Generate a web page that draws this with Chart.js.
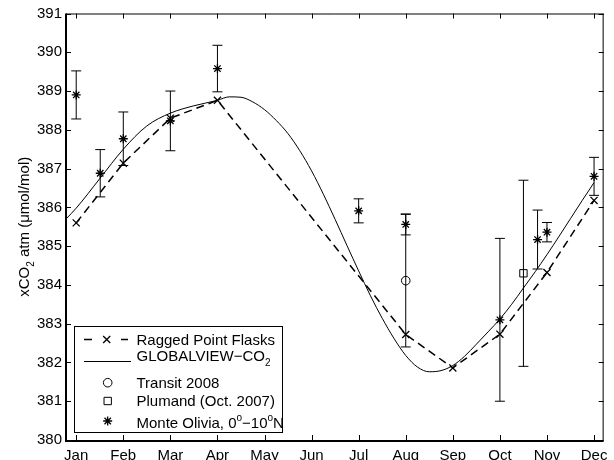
<!DOCTYPE html>
<html>
<head>
<meta charset="utf-8">
<script src="https://cdn.jsdelivr.net/npm/chart.js@4.4.0/dist/chart.umd.min.js"></script>
<style>
  html, body { margin: 0; padding: 0; background: #fff; }
</style>
</head>
<body>
<canvas id="co2Chart" width="614" height="460"></canvas>
<script>
const monthLabels = ["Jan", "Feb", "Mar", "Apr", "May", "Jun", "Jul", "Aug", "Sep", "Oct", "Nov", "Dec"];
const yTickValues = [380, 381, 382, 383, 384, 385, 386, 387, 388, 389, 390, 391];

// Ragged Point flasks (x markers, dashed)
const raggedMonths = [1, 2, 3, 4, 8, 9, 10, 11, 12];
const raggedValues = [385.6, 387.14, 388.3, 388.76, 382.72, 381.86, 382.73, 384.32, 386.18];

// GLOBALVIEW-CO2 reference curve
const globalviewMonths = [0.783, 1, 1.5, 2, 2.5, 3, 3.5, 4, 4.25, 4.5, 4.75, 5, 5.25, 5.5, 5.75, 6, 6.25, 6.5, 6.75, 7,
  7.25, 7.5, 7.75, 8, 8.25, 8.5, 8.75, 9, 9.25, 9.5, 9.75, 10, 10.25, 10.5, 10.75, 11, 11.25, 11.5, 11.75, 12];
const globalviewValues = [385.7, 385.98, 386.74, 387.5, 388.1, 388.43, 388.62, 388.76, 388.85, 388.84, 388.72, 388.52, 388.24, 387.9, 387.46, 386.94, 386.34, 385.69, 385.02, 384.36,
  383.72, 383.14, 382.62, 382.18, 381.88, 381.76, 381.79, 381.92, 382.16, 382.47, 382.79, 383.12, 383.5, 383.92, 384.34, 384.78, 385.24, 385.71, 386.18, 386.64];

// Transit 2008 (circle)
const transitMonths = [8];
const transitValues = [384.11];
const transitErrors = [1.71];

// Plumand, Oct. 2007 (square)
const plumandMonths = [10.5];
const plumandValues = [384.3];
const plumandErrors = [2.4];

// Monte Olivia, 0-10N (asterisk)
const monteMonths = [1, 1.51, 2, 3, 4, 7, 8, 10, 10.8, 11, 12];
const monteValues = [388.9, 386.88, 387.77, 388.23, 389.58, 385.91, 385.56, 383.1, 385.17, 385.36, 386.8];
const monteErrors = [0.62, 0.61, 0.69, 0.77, 0.6, 0.31, 0.27, 2.1, 0.76, 0.25, 0.49];

const FONT = '"Liberation Sans", Arial, Helvetica, sans-serif';
const FONT_SIZE = 15;

function toPoints(xs, ys) {
  return xs.map((x, i) => ({ x: x, y: ys[i] }));
}

// draw text made of normal / sub / sup pieces, left aligned at x, baseline y
function drawRich(ctx, parts, x, y) {
  let cx = x;
  parts.forEach(p => {
    const size = p.sub || p.sup ? 10 : FONT_SIZE;
    ctx.font = size + "px " + FONT;
    let dy = 0;
    if (p.sub) dy = 5;
    if (p.sup) dy = -7;
    ctx.fillText(p.t, cx, y + dy);
    cx += ctx.measureText(p.t).width;
  });
  return cx - x;
}

function richWidth(ctx, parts) {
  let w = 0;
  parts.forEach(p => {
    const size = p.sub || p.sup ? 10 : FONT_SIZE;
    ctx.font = size + "px " + FONT;
    w += ctx.measureText(p.t).width;
  });
  return w;
}

function drawMarker(ctx, style, x, y, r) {
  ctx.beginPath();
  if (style === "circle") {
    ctx.arc(x, y, r, 0, Math.PI * 2);
  } else if (style === "rect") {
    const s = r * Math.SQRT1_2;
    ctx.rect(x - s, y - s, 2 * s, 2 * s);
  } else if (style === "crossRot") {
    const o = r * Math.SQRT1_2;
    ctx.moveTo(x - o, y - o); ctx.lineTo(x + o, y + o);
    ctx.moveTo(x - o, y + o); ctx.lineTo(x + o, y - o);
  } else if (style === "star") {
    const o = r * Math.SQRT1_2;
    ctx.moveTo(x - r, y); ctx.lineTo(x + r, y);
    ctx.moveTo(x, y - r); ctx.lineTo(x, y + r);
    ctx.moveTo(x - o, y - o); ctx.lineTo(x + o, y + o);
    ctx.moveTo(x - o, y + o); ctx.lineTo(x + o, y - o);
  }
  ctx.stroke();
}

// error bars, inward ticks, box frame, y title and legend
const matlabLook = {
  id: "matlabLook",
  afterDatasetsDraw(chart) {
    const ctx = chart.ctx;
    const a = chart.chartArea;
    const xs = chart.scales.x;
    const ys = chart.scales.y;
    ctx.save();
    ctx.strokeStyle = "#000";
    ctx.lineWidth = 1;

    // error bars
    chart.data.datasets.forEach(ds => {
      if (!ds.errorBars) return;
      ds.data.forEach((p, i) => {
        const px = xs.getPixelForValue(p.x);
        const top = ys.getPixelForValue(p.y + ds.errorBars[i]);
        const bot = ys.getPixelForValue(p.y - ds.errorBars[i]);
        ctx.beginPath();
        ctx.moveTo(px, top); ctx.lineTo(px, bot);
        ctx.moveTo(px - 5, top); ctx.lineTo(px + 5, top);
        ctx.moveTo(px - 5, bot); ctx.lineTo(px + 5, bot);
        ctx.stroke();
      });
    });

    // inward ticks on all four sides
    ctx.beginPath();
    xs.ticks.forEach(t => {
      const px = Math.round(xs.getPixelForValue(t.value)) + 0.5;
      ctx.moveTo(px, a.bottom); ctx.lineTo(px, a.bottom - 5);
      ctx.moveTo(px, a.top); ctx.lineTo(px, a.top + 5);
    });
    ys.ticks.forEach(t => {
      const py = Math.round(ys.getPixelForValue(t.value)) + 0.5;
      ctx.moveTo(a.left, py); ctx.lineTo(a.left + 5, py);
      ctx.moveTo(a.right, py); ctx.lineTo(a.right - 5, py);
    });
    ctx.stroke();

    // frame
    ctx.beginPath();
    ctx.moveTo(a.left, a.top + 0.5); ctx.lineTo(a.right, a.top + 0.5);
    ctx.moveTo(a.right - 0.5, a.top); ctx.lineTo(a.right - 0.5, a.bottom);
    ctx.stroke();
    ctx.lineWidth = 2;
    ctx.beginPath();
    ctx.moveTo(a.left, a.top); ctx.lineTo(a.left, a.bottom + 1);
    ctx.lineTo(a.right, a.bottom + 1);
    ctx.stroke();
    ctx.restore();
  },
  afterDraw(chart) {
    const ctx = chart.ctx;
    const a = chart.chartArea;
    ctx.save();
    ctx.fillStyle = "#000";
    ctx.strokeStyle = "#000";
    ctx.textBaseline = "alphabetic";

    // y axis title, rotated
    const title = [{ t: "xCO" }, { t: "2", sub: true }, { t: " atm (\u03bcmol/mol)" }];
    ctx.save();
    ctx.translate(29, (a.top + a.bottom) / 2);
    ctx.rotate(-Math.PI / 2);
    drawRich(ctx, title, -richWidth(ctx, title) / 2, 0);
    ctx.restore();

    // legend box
    const box = { x: 74.5, y: 326.5, w: 208, h: 106 };
    ctx.fillStyle = "#fff";
    ctx.fillRect(box.x, box.y, box.w, box.h);
    ctx.lineWidth = 1;
    ctx.strokeRect(box.x, box.y, box.w, box.h);
    ctx.fillStyle = "#000";

    const textX = 136.5;
    // Ragged Point Flasks
    ctx.beginPath();
    ctx.moveTo(84, 339.5); ctx.lineTo(92, 339.5);
    ctx.moveTo(121, 339.5); ctx.lineTo(128, 339.5);
    ctx.lineWidth = 1.5;
    ctx.stroke();
    ctx.lineWidth = 1.3;
    drawMarker(ctx, "crossRot", 106.7, 339.5, 5);
    drawRich(ctx, [{ t: "Ragged Point Flasks" }], textX, 344.5);

    // GLOBALVIEW-CO2
    ctx.lineWidth = 1;
    ctx.beginPath();
    ctx.moveTo(84, 361.5); ctx.lineTo(131, 361.5);
    ctx.stroke();
    drawRich(ctx, [{ t: "GLOBALVIEW\u2212CO" }, { t: "2", sub: true }], textX, 360.7);

    // Transit 2008
    drawMarker(ctx, "circle", 107.7, 382.7, 4.3);
    drawRich(ctx, [{ t: "Transit 2008" }], textX, 387.5);

    // Plumand
    drawMarker(ctx, "rect", 107.7, 401, 5.2);
    drawRich(ctx, [{ t: "Plumand (Oct. 2007)" }], textX, 405.8);

    // Monte Olivia
    ctx.lineWidth = 1.3;
    drawMarker(ctx, "star", 107.7, 421, 4.5);
    drawRich(ctx, [{ t: "Monte Olivia, 0" }, { t: "o", sup: true }, { t: "\u221210" }, { t: "o", sup: true }, { t: "N" }], textX, 427.8);
    ctx.restore();
  }
};

const tickFont = { family: FONT, size: FONT_SIZE };

const ctx = document.getElementById("co2Chart").getContext("2d");
const co2Chart = new Chart(ctx, {
  type: "scatter",
  data: {
    datasets: [
      {
        label: "Ragged Point Flasks",
        type: "line",
        data: toPoints(raggedMonths, raggedValues),
        borderColor: "#000",
        borderWidth: 1.5,
        borderDash: [8, 5],
        pointStyle: "crossRot",
        pointRadius: 5,
        pointBorderWidth: 1.3,
        pointBorderColor: "#000",
        pointBackgroundColor: "rgba(0,0,0,0)",
        fill: false,
        tension: 0
      },
      {
        label: "GLOBALVIEW-CO2",
        type: "line",
        data: toPoints(globalviewMonths, globalviewValues),
        borderColor: "#000",
        borderWidth: 1,
        pointRadius: 0,
        fill: false,
        cubicInterpolationMode: "monotone"
      },
      {
        label: "Transit 2008",
        data: toPoints(transitMonths, transitValues),
        errorBars: transitErrors,
        pointStyle: "circle",
        pointRadius: 4.3,
        borderColor: "#000",
        borderWidth: 1,
        backgroundColor: "rgba(0,0,0,0)"
      },
      {
        label: "Plumand (Oct. 2007)",
        data: toPoints(plumandMonths, plumandValues),
        errorBars: plumandErrors,
        pointStyle: "rect",
        pointRadius: 5.2,
        borderColor: "#000",
        borderWidth: 1,
        backgroundColor: "rgba(0,0,0,0)"
      },
      {
        label: "Monte Olivia",
        data: toPoints(monteMonths, monteValues),
        errorBars: monteErrors,
        pointStyle: "star",
        pointRadius: 4.5,
        borderColor: "#000",
        borderWidth: 1.3,
        backgroundColor: "rgba(0,0,0,0)"
      }
    ]
  },
  options: {
    responsive: false,
    animation: false,
    events: [],
    layout: { padding: { top: 13.5, right: 5, left: 0, bottom: 0 } },
    plugins: {
      legend: { display: false },
      tooltip: { enabled: false }
    },
    scales: {
      x: {
        type: "linear",
        min: 0.783,
        max: 12.204,
        afterBuildTicks: scale => { scale.ticks = monthLabels.map((m, i) => ({ value: i + 1 })); },
        afterFit: scale => { scale.height = 20; },
        grid: { display: false, drawTicks: false },
        border: { display: false },
        ticks: {
          padding: 6.5,
          color: "#000",
          font: tickFont,
          maxRotation: 0,
          autoSkip: false,
          callback: v => monthLabels[Math.round(v) - 1]
        }
      },
      y: {
        type: "linear",
        min: 380,
        max: 391,
        afterBuildTicks: scale => { scale.ticks = yTickValues.map(v => ({ value: v })); },
        afterFit: scale => { scale.width = 66; },
        grid: { display: false, drawTicks: false },
        border: { display: false },
        ticks: {
          padding: 4,
          color: "#000",
          font: tickFont,
          autoSkip: false
        }
      }
    }
  },
  plugins: [matlabLook]
});
</script>
</body>
</html>
